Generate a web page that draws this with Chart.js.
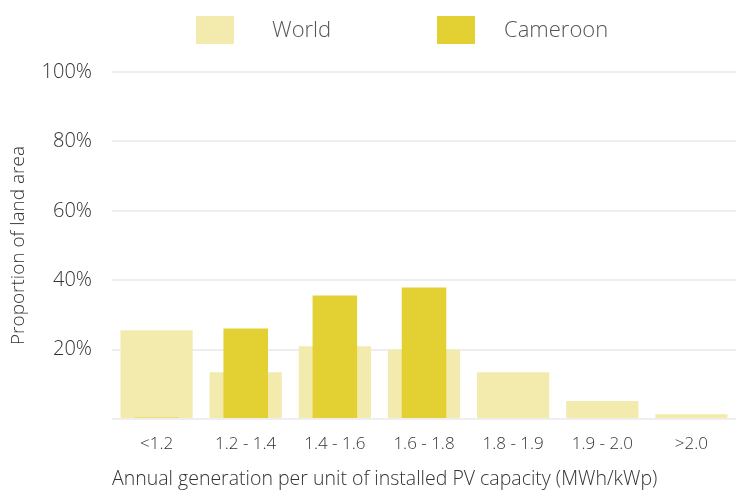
<!DOCTYPE html>
<html>
<head>
<meta charset="utf-8">
<script src="https://cdn.jsdelivr.net/npm/chart.js@4.4.1/dist/chart.umd.min.js"></script>
<style>
  html, body { margin: 0; padding: 0; background: #fff; }
  #wrap { position: relative; width: 736px; height: 491px; }
  #legend { position: absolute; top: 16px; left: 0; width: 736px; height: 28px; font-family: 'Open Sans', sans-serif; font-weight: 300; font-size: 22px; color: #555; }
  .item { position: absolute; top: -2px; height: 28px; line-height: 28px; }
  .box { position: absolute; top: 0; width: 38px; height: 28px; }
</style>
</head>
<body>
<div id="wrap">
  <canvas id="chart" width="736" height="491"></canvas>
  <div id="legend"></div>
</div>
<script>
const categories = ['<1.2', '1.2 - 1.4', '1.4 - 1.6', '1.6 - 1.8', '1.8 - 1.9', '1.9 - 2.0', '>2.0'];
const worldValues = [25.6, 13.5, 21.0, 20.0, 13.5, 5.2, 1.4];
const cameroonValues = [0.4, 26.1, 35.6, 37.9, 0, 0, 0];
const yTicks = [20, 40, 60, 80, 100];

const worldColor = '#F3EBAD';
const cameroonColor = '#E3D033';

// legend as plain html, spacing is wider than Chart.js allows
const legend = document.getElementById('legend');
[['World', worldColor, 196, 272], ['Cameroon', cameroonColor, 437, 504]].forEach(([name, color, x, tx]) => {
  const box = document.createElement('div');
  box.className = 'box';
  box.style.left = x + 'px';
  box.style.background = color;
  legend.appendChild(box);
  const label = document.createElement('div');
  label.className = 'item';
  label.style.left = tx + 'px';
  label.textContent = name;
  legend.appendChild(label);
});

const font = { family: "'Open Sans', sans-serif", weight: 300 };

new Chart(document.getElementById('chart'), {
  type: 'bar',
  data: {
    labels: categories,
    datasets: [
      {
        label: 'World',
        data: worldValues,
        backgroundColor: worldColor,
        barPercentage: 0.81,
        categoryPercentage: 1,
        grouped: false,
        order: 1
      },
      {
        label: 'Cameroon',
        data: cameroonValues,
        backgroundColor: cameroonColor,
        barPercentage: 0.5,
        categoryPercentage: 1,
        grouped: false,
        order: 0
      }
    ]
  },
  options: {
    responsive: false,
    animation: false,
    layout: { padding: { top: 72, right: 0, left: 0, bottom: 0 } },
    plugins: {
      legend: { display: false },
      tooltip: { enabled: false }
    },
    scales: {
      x: {
        afterFit: axis => { axis.height = 72; },
        grid: { display: false },
        border: { display: false },
        ticks: { color: '#333', font: { ...font, size: 17 }, padding: 7, maxRotation: 0 },
        title: {
          display: true,
          align: 'start',
          text: 'Annual generation per unit of installed PV capacity (MWh/kWp)',
          color: '#333',
          font: { ...font, size: 19.5 },
          padding: { top: 0, bottom: 0 }
        }
      },
      y: {
        min: 0,
        max: 100,
        afterFit: axis => { axis.width = 112; },
        afterBuildTicks: axis => { axis.ticks = [0, ...yTicks].map(v => ({ value: v })); },
        grid: { color: '#eeeeee', lineWidth: 2, drawTicks: false },
        border: { display: false },
        ticks: {
          color: '#333',
          font: { ...font, size: 20 },
          padding: 20,
          callback: v => v === 0 ? '' : v + '%'
        },
        title: {
          display: true,
          text: 'Proportion of land area',
          color: '#333',
          font: { ...font, size: 19 },
          padding: { top: 7, bottom: 0 }
        }
      }
    }
  }
});
</script>
</body>
</html>
